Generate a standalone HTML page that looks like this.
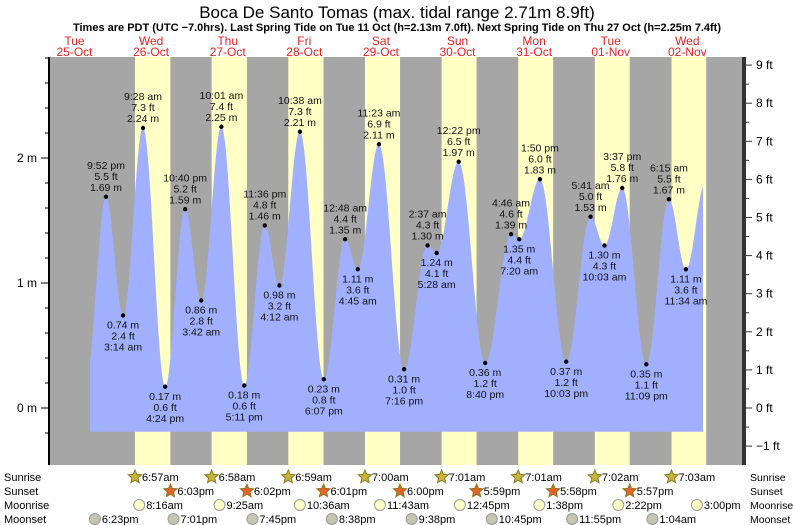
<!DOCTYPE html>
<html><head><meta charset="utf-8"><style>
body{margin:0;background:#fff;}
svg{display:block;font-family:"Liberation Sans",sans-serif;}
</style></head><body>
<svg id="c" width="793" height="525" xmlns="http://www.w3.org/2000/svg">
<text x="397" y="18" font-size="17" text-anchor="middle">Boca De Santo Tomas (max. tidal range 2.71m 8.9ft)</text>
<text x="397" y="31" font-size="11" font-weight="bold" text-anchor="middle">Times are PDT (UTC −7.0hrs). Last Spring Tide on Tue 11 Oct (h=2.13m 7.0ft). Next Spring Tide on Thu 27 Oct (h=2.25m 7.4ft)</text>
<g id="bg"></g><g id="tide"></g><g id="marks"></g><g id="axes"></g><g id="bottom"></g>
</svg>
<script>
// hours since Oct 25 00:00
const tideHours = [15.67,21.87,27.23,33.47,40.4,46.67,51.7,58.02,65.18,71.6,76.2,82.63,90.12,96.8,100.75,107.38,115.27,122.62,125.47,132.37,140.67,148.77,151.33,157.83,166.05,173.68,178.05,183.62,191.15,198.25,203.57,209.67];
const tideHeights = [0.25,1.69,0.74,2.24,0.17,1.59,0.86,2.25,0.18,1.46,0.98,2.21,0.23,1.35,1.11,2.11,0.31,1.30,1.24,1.97,0.36,1.39,1.35,1.83,0.37,1.53,1.30,1.76,0.35,1.67,1.11,1.80];
const labelFrom = 1, labelTo = 30;
const dayNames = ["Tue","Wed","Thu","Fri","Sat","Sun","Mon","Tue","Wed"];
const dayDates = ["25-Oct","26-Oct","27-Oct","28-Oct","29-Oct","30-Oct","31-Oct","01-Nov","02-Nov"];
const sunriseH = [6.95,6.97,6.98,7.0,7.02,7.02,7.03,7.05];
const sunsetH = [18.05,18.03,18.02,18.0,17.98,17.97,17.95,17.93];
const sunriseLbl = ["6:57am","6:58am","6:59am","7:00am","7:01am","7:01am","7:02am","7:03am"];
const sunsetLbl = ["6:03pm","6:02pm","6:01pm","6:00pm","5:59pm","5:58pm","5:57pm"];
const moonriseH = [32.27,57.42,82.6,107.72,132.75,157.63,182.37,207.0];
const moonriseLbl = ["8:16am","9:25am","10:36am","11:43am","12:45pm","1:38pm","2:22pm","3:00pm"];
const moonsetH = [18.38,43.02,67.75,92.63,117.63,142.75,167.92,193.07];
const moonsetLbl = ["6:23pm","7:01pm","7:45pm","8:38pm","9:38pm","10:45pm","11:55pm","1:04am"];
const mTicks = [0,1,2];
const ftTicks = [-1,0,1,2,3,4,5,6,7,8,9];

const NS="http://www.w3.org/2000/svg";
const X0=36.2, PXD=76.6;
const xs=h=>X0+h/24*PXD;
const ym=m=>408-m*125;
const yft=f=>408-f*0.3048*125;
const L=50,R=742,T=57,B=465;
function el(p,t,a,txt){const e=document.createElementNS(NS,t);for(const k in a)e.setAttribute(k,a[k]);if(txt!==undefined)e.textContent=txt;p.appendChild(e);return e;}
const bg=document.getElementById('bg'),tide=document.getElementById('tide'),marks=document.getElementById('marks'),axes=document.getElementById('axes'),bottom=document.getElementById('bottom');

let r=el(bg,'rect',{x:L,y:T,width:R-L,height:B-T,fill:'#a6a6a6'});


for(let i=0;i<8;i++){
  const d=(i+1)*24;
  const x1=xs(d+sunriseH[i]),x2=xs(d+sunsetH[i]);
  const b=el(bg,'rect',{x:x1,y:T,width:x2-x1,height:B-T,fill:'#ffffc6'});
  
  
}
for(let i=0;i<dayNames.length;i++){
  const x=xs(i*24+12);
  const t1=el(bg,'text',{x:x,y:45,'font-size':12,fill:'#e8231f','text-anchor':'middle'},dayNames[i]);
  
  
  const t2=el(bg,'text',{x:x,y:56,'font-size':12,fill:'#e8231f','text-anchor':'middle'},dayDates[i]);
  
  
}
function hAt(h){
  for(let i=0;i<tideHours.length-1;i++){
    if(h>=tideHours[i]&&h<=tideHours[i+1]){
      const f=(h-tideHours[i])/(tideHours[i+1]-tideHours[i]);
      return tideHeights[i]+(tideHeights[i+1]-tideHeights[i])*(1-Math.cos(Math.PI*f))/2;
    }
  }
  return tideHeights[tideHeights.length-1];
}
const xStart=90,xEnd=703,yBase=ym(-0.19);
let d='M'+xStart+','+yBase;
for(let x=xStart;x<=xEnd;x+=0.5){const h=(x-X0)/PXD*24;d+=' L'+x+','+ym(hAt(h)).toFixed(1);}
d+=' L'+xEnd+','+yBase+' Z';
const p=el(tide,'path',{d:d,fill:'#a0b0ff'});


function fmt(h){let hr=Math.floor(h%24+1e-6),mn=Math.round((h%24-hr)*60);if(mn==60){mn=0;hr++;}const ap=hr>=12?'pm':'am';let h12=hr%12;if(h12==0)h12=12;return h12+':'+String(mn).padStart(2,'0')+' '+ap;}
for(let i=labelFrom;i<=labelTo;i++){
  const x=xs(tideHours[i]),y=ym(tideHeights[i]);
  const isHigh=tideHeights[i]>tideHeights[i-1];
  const dot=el(marks,'circle',{cx:x,cy:y,r:2.2,fill:'#000'});
  
  
  const m=tideHeights[i].toFixed(2)+' m',ft=(tideHeights[i]*3.28084).toFixed(1)+' ft',tm=fmt(tideHours[i]);
  const lines=isHigh?[tm,ft,m]:[m,ft,tm];
  const y0=isHigh?y-28:y+13;
  lines.forEach((s,k)=>{
    const t=el(marks,'text',{x:x,y:y0+k*11,'font-size':10.5,fill:'#111','text-anchor':'middle'},s);
    
    
  });
}
let a=el(axes,'line',{x1:L-1,y1:T,x2:L-1,y2:B,stroke:'#000','stroke-width':2});


for(let v=-0.2;v<=2.81;v+=0.2){const y=ym(v);if(y<T||y>B)continue;el(axes,'line',{x1:L-5,y1:y,x2:L-1,y2:y,stroke:'#000'});}
mTicks.forEach(v=>{const y=ym(v);el(axes,'line',{x1:L-9,y1:y,x2:L-1,y2:y,stroke:'#000'});
  const t=el(axes,'text',{x:L-13,y:y+4,'font-size':12,'text-anchor':'end'},v+' m');
  
  });
a=el(axes,'line',{x1:R+2,y1:T,x2:R+2,y2:B,stroke:'#333','stroke-width':4});


for(let f=-1.5;f<=9.5;f+=0.5){const y=yft(f);if(y<T||y>B)continue;el(axes,'line',{x1:R+4,y1:y,x2:R+(f%1==0?10:7),y2:y,stroke:'#333'});}
ftTicks.forEach(f=>{const y=yft(f);
  const t=el(axes,'text',{x:R+14,y:y+4,'font-size':12},(f<0?'−'+(-f):f)+' ft');
  
  });
const rows=[["Sunrise",481],["Sunset",495],["Moonrise",509],["Moonset",523]];
rows.forEach(([n,y])=>{
  const t1=el(bottom,'text',{x:4,y:y,'font-size':11},n);
  
  
  const t2=el(bottom,'text',{x:750,y:y,'font-size':10.5},n);
  
  
});
function star(cx,cy,fill,stroke){let pts=[];for(let k=0;k<10;k++){const r=k%2?3.2:7,a=-Math.PI/2+k*Math.PI/5;pts.push((cx+r*Math.cos(a)).toFixed(1)+','+(cy+r*Math.sin(a)).toFixed(1));}return el(bottom,'polygon',{points:pts.join(' '),fill:fill,stroke:stroke,'stroke-width':1});}
function item(x,y,lbl,kind){
  let ic;
  if(kind=='sunrise')ic=star(x,y-4,'#c8b43c','#8a7a20');
  else if(kind=='sunset')ic=star(x,y-4,'#e8602c','#8a7a20');
  else ic=el(bottom,'circle',{cx:x,cy:y-4,r:5.5,fill:kind=='moonrise'?'#ffffc6':'#c8c4b0',stroke:'#999'});
  
  
  const t=el(bottom,'text',{x:x+7,y:y,'font-size':11},lbl);
  
  
}
sunriseH.forEach((h,i)=>item(xs((i+1)*24+h),481,sunriseLbl[i],'sunrise'));
sunsetLbl.forEach((l,i)=>item(xs((i+1)*24+sunsetH[i]),495,l,'sunset'));
moonriseH.forEach((h,i)=>item(xs(h),509,moonriseLbl[i],'moonrise'));
moonsetH.forEach((h,i)=>item(xs(h),523,moonsetLbl[i],'moonset'));
</script>
</body></html>
